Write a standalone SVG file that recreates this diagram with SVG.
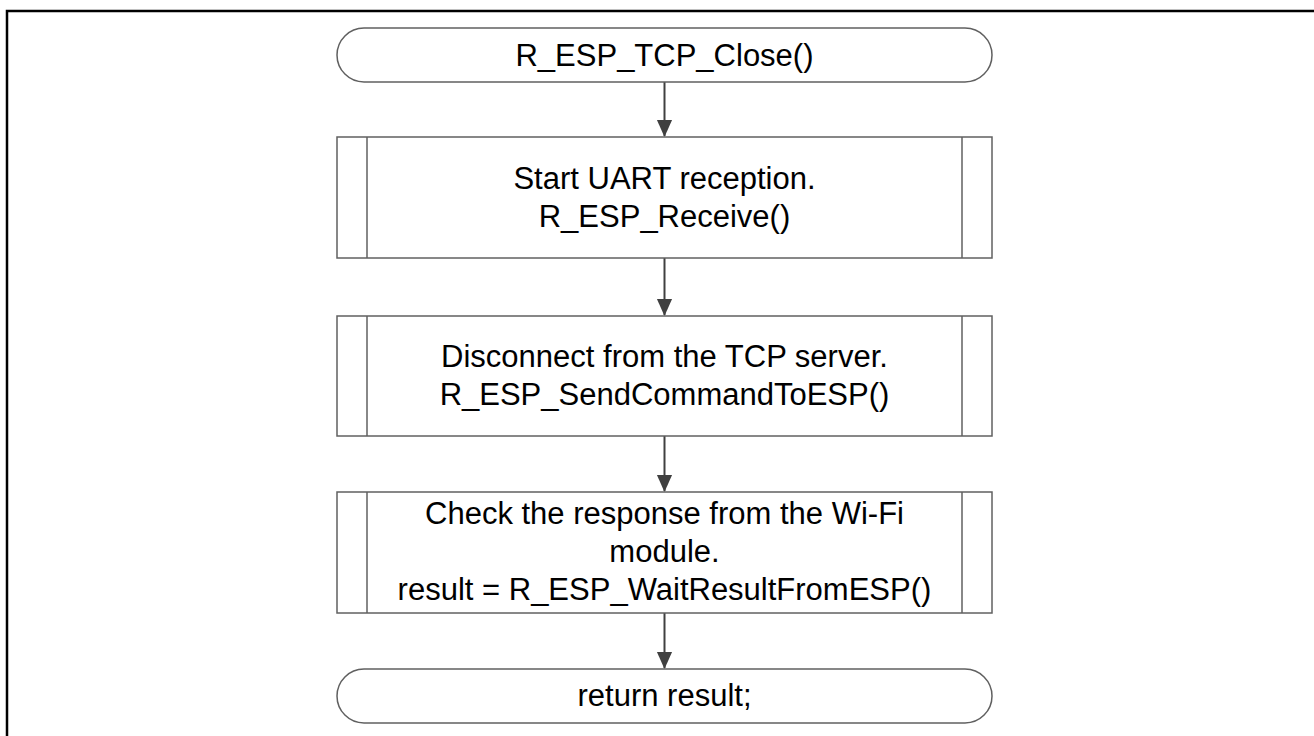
<svg xmlns="http://www.w3.org/2000/svg" width="1314" height="736" viewBox="0 0 1314 736">
<style>
.frame{fill:none;stroke:#000;stroke-width:2.5}
.shape{fill:#fff;stroke:#606060;stroke-width:1.5}
.inner{stroke:#606060;stroke-width:1.5}
.conn{stroke:#404040;stroke-width:2;fill:none}
text{font-family:"Liberation Sans",Arial,sans-serif;font-size:31px;fill:#000;text-anchor:middle}
</style>
<defs>
<marker id="arr" markerUnits="userSpaceOnUse" markerWidth="17" markerHeight="19" refX="18" refY="8.5" orient="auto" viewBox="0 0 19 17">
<path d="M0,0 L19,8.5 L0,17 Z" fill="#404040"/>
</marker>
</defs>
<rect width="1314" height="736" fill="#fff"/>
<path class="frame" d="M7,736 L7,11 L1314,11"/>
<g id="connectors">
<path d="M664.5,82 L664.5,136" class="conn" marker-end="url(#arr)"/>
<path d="M664.5,258 L664.5,315" class="conn" marker-end="url(#arr)"/>
<path d="M664.5,436 L664.5,491" class="conn" marker-end="url(#arr)"/>
<path d="M664.5,613 L664.5,668" class="conn" marker-end="url(#arr)"/>
</g>
<g id="start">
<rect class="shape" x="337" y="28" width="655" height="54" rx="27" ry="27"/>
<text x="664.5" y="66">R_ESP_TCP_Close()</text>
</g>
<g id="box1">
<rect class="shape" x="337" y="137" width="655" height="121"/>
<line class="inner" x1="367" y1="137" x2="367" y2="258"/>
<line class="inner" x1="962" y1="137" x2="962" y2="258"/>
<text x="664.5" y="189">Start UART reception.</text>
<text x="664.5" y="227">R_ESP_Receive()</text>
</g>
<g id="box2">
<rect class="shape" x="337" y="316" width="655" height="120"/>
<line class="inner" x1="367" y1="316" x2="367" y2="436"/>
<line class="inner" x1="962" y1="316" x2="962" y2="436"/>
<text x="664.5" y="367">Disconnect from the TCP server.</text>
<text x="664.5" y="405">R_ESP_SendCommandToESP()</text>
</g>
<g id="box3">
<rect class="shape" x="337" y="492" width="655" height="121"/>
<line class="inner" x1="367" y1="492" x2="367" y2="613"/>
<line class="inner" x1="962" y1="492" x2="962" y2="613"/>
<text x="664.5" y="524">Check the response from the Wi-Fi</text>
<text x="664.5" y="562">module.</text>
<text x="664.5" y="600">result = R_ESP_WaitResultFromESP()</text>
</g>
<g id="end">
<rect class="shape" x="337" y="669" width="655" height="54" rx="27" ry="27"/>
<text x="664.5" y="706">return result;</text>
</g>
</svg>
